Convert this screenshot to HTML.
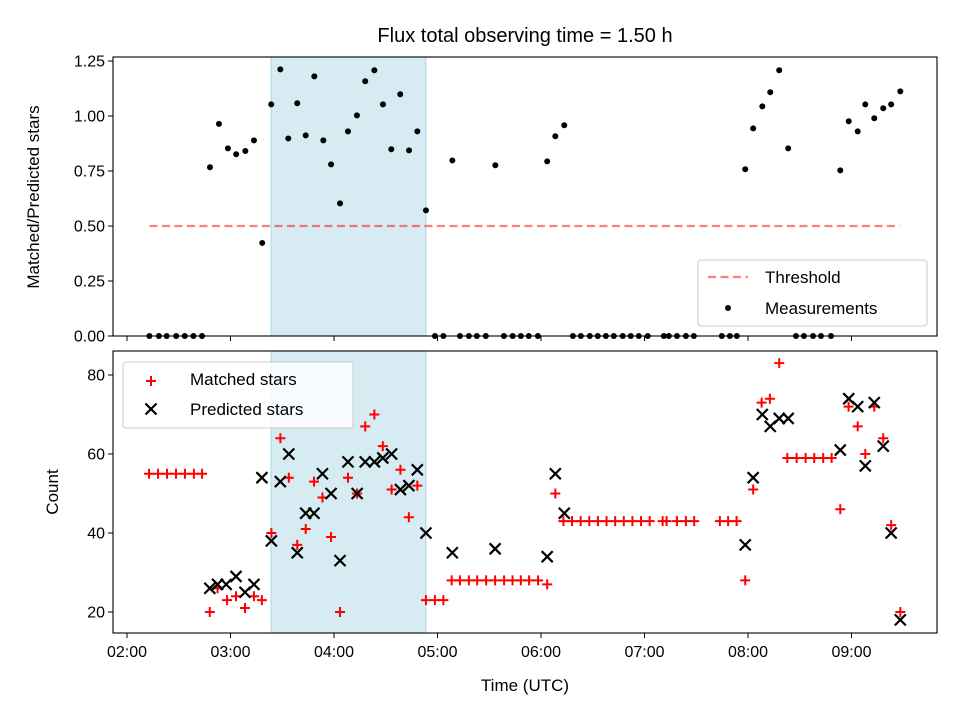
<!DOCTYPE html>
<html><head><meta charset="utf-8">
<style>
html,body{margin:0;padding:0;background:#fff;}
svg{display:block;font-family:"Liberation Sans","DejaVu Sans",sans-serif;}
</style></head>
<body>
<svg id="chart" width="960" height="720" viewBox="0 0 960 720" xmlns="http://www.w3.org/2000/svg">
<rect x="0" y="0" width="960" height="720" fill="#fff"/>
<text x="525" y="42" font-size="20" text-anchor="middle" fill="#000">Flux total observing time = 1.50 h</text>
<g id="topAxes"></g>
<g id="botAxes"></g>
<text transform="translate(39,197) rotate(-90)" font-size="17" text-anchor="middle">Matched/Predicted stars</text>
<text transform="translate(58,492) rotate(-90)" font-size="17" text-anchor="middle">Count</text>
<text x="525" y="691" font-size="17" text-anchor="middle">Time (UTC)</text>
</svg>
<script>
// x: minutes after midnight (UTC)
const xTickMinutes = [120,180,240,300,360,420,480,540];
const xTickLabels = ["02:00","03:00","04:00","05:00","06:00","07:00","08:00","09:00"];
const topYTicks = [0,0.25,0.5,0.75,1.0,1.25];
const topYTickLabels = ["0.00","0.25","0.50","0.75","1.00","1.25"];
const botYTicks = [20,40,60,80];
const shadeStart = 203.5, shadeEnd = 293.3;
const thresholdValue = 0.5, thresholdStart = 133, thresholdEnd = 568;
const ratioTimes = [133,138.5,143,148.5,153.5,158.5,163.5,168.1,173.3,178.5,183.3,188.6,193.6,198.4,203.6,208.9,213.5,218.7,223.6,228.6,233.8,238.3,243.5,248.1,253.3,258.1,263.4,268.4,273.2,278.4,283.5,288.3,293.3,298.5,303.4,308.6,313,318.2,322.8,328,333.5,338.5,343.6,348.3,352.9,358.2,363.6,368.3,373.5,378.5,383.1,388.3,392.9,397.6,402.2,407.4,412,416.7,421.9,431.2,434.1,438.8,444,448.6,464.8,469.5,473.5,478.4,483,488.3,492.9,498.1,503.3,507.8,512.4,517.7,522.3,528.1,533.5,538.4,543.6,548,553.2,558.4,563,568.3];
const ratioValues = [0,0,0,0,0,0,0,0.767,0.964,0.853,0.826,0.841,0.889,0.423,1.053,1.212,0.898,1.058,0.912,1.180,0.889,0.780,0.603,0.930,1.003,1.158,1.208,1.053,0.849,1.099,0.844,0.930,0.571,0,0,0.798,0,0,0,0,0.776,0,0,0,0,0,0.794,0.908,0.958,0,0,0,0,0,0,0,0,0,0,0,0,0,0,0,0,0,0,0.758,0.944,1.044,1.108,1.208,0.853,0,0,0,0,0,0.753,0.976,0.930,1.053,0.99,1.035,1.053,1.112];
const matchedTimes = [132.8,138,143.2,148.4,153.6,158.8,163.5,168,172.5,178,183.2,188.4,193.6,198.2,203.7,208.9,213.8,218.7,223.6,228.4,233.3,238.3,243.5,248.1,253.4,258.1,263.4,268.3,273.4,278.5,283.4,288.3,293.3,298.5,303.4,308.2,313,318.2,323,328.2,333.4,338.6,343.5,348.3,353.1,358.3,363.6,368.3,373,378,383,388,393,398,403,408,413,418,423,430.5,432.8,438.8,444,448.8,463.7,468.5,473.4,478.4,483,487.9,492.7,498.1,502.8,508.2,513.4,518.4,523.6,528.5,533.5,538.3,543.6,548,553.2,558.4,563,568.3];
const matchedValues = [55,55,55,55,55,55,55,20,26,23,24,21,24,23,40,64,54,37,41,53,49,39,20,54,50,67,70,62,51,56,44,52,23,23,23,28,28,28,28,28,28,28,28,28,28,28,27,50,43,43,43,43,43,43,43,43,43,43,43,43,43,43,43,43,43,43,43,28,51,73,74,83,59,59,59,59,59,59,46,72,67,60,72,64,42,20];
const predictedTimes = [168,172.5,177.5,183.2,188.4,193.6,198.2,203.7,208.9,213.8,218.7,223.6,228.4,233.3,238.3,243.5,248.1,253.4,258.1,263.4,268.3,273.4,278.5,283.4,288.3,293.3,308.6,333.4,363.6,368.3,373.5,478.4,483,488.3,492.9,498.1,503.3,533.5,538.4,543.6,548,553.2,558.4,563,568.3];
const predictedValues = [26,27,27,29,25,27,54,38,53,60,35,45,45,55,50,33,58,50,58,58,59,60,51,52,56,40,35,36,34,55,45,37,54,70,67,69,69,61,74,72,57,73,62,40,18];

const NS = "http://www.w3.org/2000/svg";
const L = 113, R = 937;
const T1 = 57, B1 = 336, T2 = 351, B2 = 633;
function xs(m){ return 127 + (m - 120) * 103.5 / 60; }
function ys1(v){ return 336 - v * 220; }
function ys2(v){ return 612 - (v - 20) * 3.95; }
function mk(tag, attrs, parent){
  const e = document.createElementNS(NS, tag);
  for (const k in attrs) e.setAttribute(k, attrs[k]);
  parent.appendChild(e);
  return e;
}
const gTop = document.getElementById('topAxes');
const gBot = document.getElementById('botAxes');

let s1 = mk('rect', {x: xs(shadeStart), y: T1, width: xs(shadeEnd)-xs(shadeStart), height: B1-T1, fill: '#add8e6', 'fill-opacity': 0.5, stroke: '#add8e6', 'stroke-width': 1}, gTop);


let s2 = mk('rect', {x: xs(shadeStart), y: T2, width: xs(shadeEnd)-xs(shadeStart), height: B2-T2, fill: '#add8e6', 'fill-opacity': 0.5, stroke: '#add8e6', 'stroke-width': 1}, gBot);



let th = mk('line', {x1: xs(thresholdStart), x2: xs(thresholdEnd), y1: ys1(thresholdValue), y2: ys1(thresholdValue), stroke: '#ff0000', 'stroke-opacity': 0.5, 'stroke-width': 2.2, 'stroke-dasharray': '8,4.5'}, gTop);



ratioTimes.forEach((t, i) => {
  const c = mk('circle', {cx: xs(t), cy: ys1(ratioValues[i]), r: 3, fill: '#000'}, gTop);
  
  
});
matchedTimes.forEach((t, i) => {
  const x = xs(t), y = ys2(matchedValues[i]);
  const p = mk('path', {d: `M${x-5},${y}H${x+5}M${x},${y-5}V${y+5}`, stroke: '#ff0000', 'stroke-width': 2, fill: 'none'}, gBot);
  
  
});
predictedTimes.forEach((t, i) => {
  const x = xs(t), y = ys2(predictedValues[i]);
  const p = mk('path', {d: `M${x-5.5},${y-5.5}L${x+5.5},${y+5.5}M${x-5.5},${y+5.5}L${x+5.5},${y-5.5}`, stroke: '#000', 'stroke-width': 2.2, fill: 'none'}, gBot);
  
  
});

let f1 = mk('rect', {x: L, y: T1, width: R-L, height: B1-T1, fill: 'none', stroke: '#000', 'stroke-width': 1.1}, gTop);


let f2 = mk('rect', {x: L, y: T2, width: R-L, height: B2-T2, fill: 'none', stroke: '#000', 'stroke-width': 1.1}, gBot);



xTickMinutes.forEach((m, i) => {
  const x = xs(m);
  const a = mk('line', {x1: x, x2: x, y1: B1, y2: B1+5, stroke: '#000', 'stroke-width': 1}, gTop);
  
  
  const b = mk('line', {x1: x, x2: x, y1: B2, y2: B2+5, stroke: '#000', 'stroke-width': 1}, gBot);
  
  
  const tx = mk('text', {x: x, y: B2+24, 'font-size': 16, 'text-anchor': 'middle'}, gBot);
  tx.textContent = xTickLabels[i];
  
  
});
topYTicks.forEach((v, i) => {
  const y = ys1(v);
  const a = mk('line', {x1: L-5, x2: L, y1: y, y2: y, stroke: '#000', 'stroke-width': 1}, gTop);
  
  
  const tx = mk('text', {x: L-8, y: y+5.5, 'font-size': 16, 'text-anchor': 'end'}, gTop);
  tx.textContent = topYTickLabels[i];
  
  
});
botYTicks.forEach((v) => {
  const y = ys2(v);
  const a = mk('line', {x1: L-5, x2: L, y1: y, y2: y, stroke: '#000', 'stroke-width': 1}, gBot);
  
  
  const tx = mk('text', {x: L-8, y: y+5.5, 'font-size': 16, 'text-anchor': 'end'}, gBot);
  tx.textContent = String(v);
  
  
});

const lg1 = mk('g', {}, gTop);


mk('rect', {x: 698, y: 260, width: 229, height: 66, rx: 3, fill: '#fff', 'fill-opacity': 0.8, stroke: '#ccc', 'stroke-width': 1}, lg1);
mk('line', {x1: 708, x2: 748, y1: 277, y2: 277, stroke: '#ff0000', 'stroke-opacity': 0.5, 'stroke-width': 2.2, 'stroke-dasharray': '8,4.5'}, lg1);
const lt1 = mk('text', {x: 765, y: 283, 'font-size': 17}, lg1);
lt1.textContent = 'Threshold';


mk('circle', {cx: 728, cy: 308, r: 3, fill: '#000'}, lg1);
const lt2 = mk('text', {x: 765, y: 314, 'font-size': 17}, lg1);
lt2.textContent = 'Measurements';



const lg2 = mk('g', {}, gBot);


mk('rect', {x: 123, y: 362, width: 230, height: 66, rx: 3, fill: '#fff', 'fill-opacity': 0.8, stroke: '#ccc', 'stroke-width': 1}, lg2);
mk('path', {d: 'M146,381H156M151,376V386', stroke: '#ff0000', 'stroke-width': 2, fill: 'none'}, lg2);
const lt3 = mk('text', {x: 190, y: 385, 'font-size': 17}, lg2);
lt3.textContent = 'Matched stars';


mk('path', {d: 'M145.5,403.5L156.5,414.5M145.5,414.5L156.5,403.5', stroke: '#000', 'stroke-width': 2.2, fill: 'none'}, lg2);
const lt4 = mk('text', {x: 190, y: 415, 'font-size': 17}, lg2);
lt4.textContent = 'Predicted stars';


</script>
</body></html>
